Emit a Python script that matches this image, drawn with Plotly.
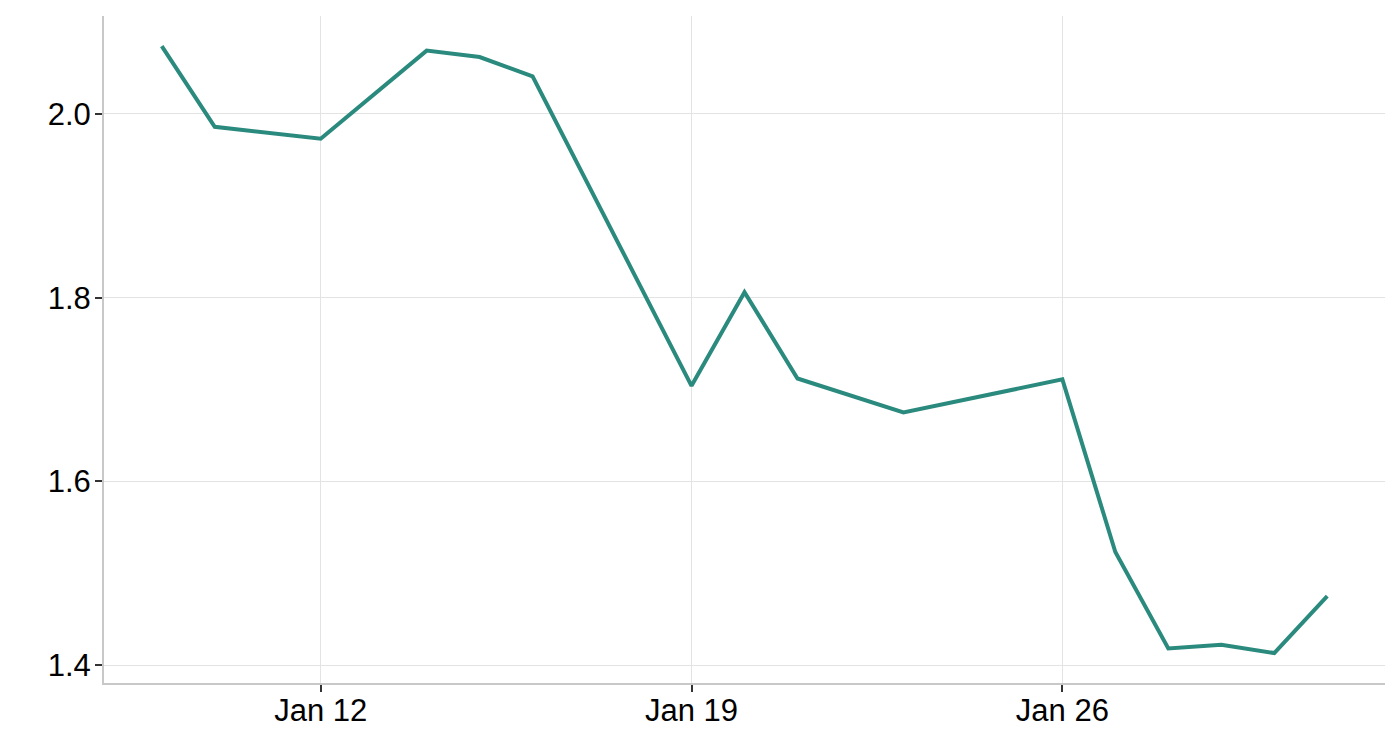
import plotly.graph_objects as go

dates = ["2021-01-09", "2021-01-10", "2021-01-12", "2021-01-14", "2021-01-15",
         "2021-01-16", "2021-01-19", "2021-01-20", "2021-01-21", "2021-01-23",
         "2021-01-26", "2021-01-27", "2021-01-28", "2021-01-29", "2021-01-30",
         "2021-01-31"]
values = [2.074, 1.986, 1.973, 2.069, 2.062, 2.041, 1.704, 1.806, 1.712, 1.675,
          1.711, 1.523, 1.418, 1.422, 1.413, 1.475]
x_ticks = ["2021-01-12", "2021-01-19", "2021-01-26"]
x_tick_labels = ["Jan 12", "Jan 19", "Jan 26"]
y_ticks = [1.4, 1.6, 1.8, 2.0]
y_tick_labels = ["1.4", "1.6", "1.8", "2.0"]

fig = go.Figure()
fig.add_trace(go.Scatter(x=dates, y=values, mode="lines",
                         line=dict(color="#2b8a7e", width=4)))

axis_common = dict(
    showline=True, linecolor="#c8c8c8", linewidth=2,
    showgrid=True, gridcolor="#e3e3e3", gridwidth=1,
    ticks="outside", ticklen=7, tickwidth=2, tickcolor="#333333",
    tickfont=dict(family="Liberation Sans, Arial, sans-serif", size=31, color="#000000"),
    zeroline=False,
)

fig.update_layout(
    width=1393, height=733,
    margin=dict(l=96, r=16, t=8, b=58),
    paper_bgcolor="white", plot_bgcolor="white",
    showlegend=False,
    xaxis=dict(range=["2021-01-07 21:50", "2021-02-01 02:10"],
               tickvals=x_ticks, ticktext=x_tick_labels,
               ticklabelstandoff=-8, **axis_common),
    yaxis=dict(range=[1.3804, 2.1067],
               tickvals=y_ticks, ticktext=y_tick_labels,
               ticklabelstandoff=-2, **axis_common),
)

fig.write_html("out.html")
